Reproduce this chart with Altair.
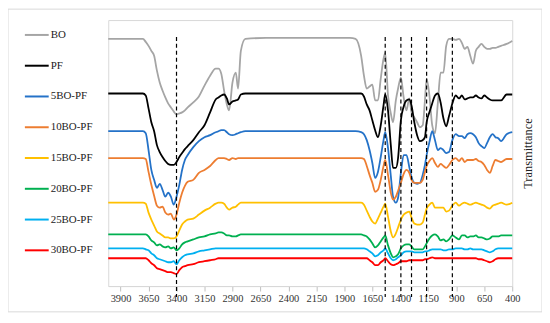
import altair as alt
import pandas as pd

# Wavenumber grid (cm-1) shared by all spectra
wavenumber = [4010, 3800, 3700, 3675, 3650, 3625, 3600, 3575, 3550, 3525, 3500, 3475, 3450, 3425, 3400, 3375,
              3350, 3325, 3300, 3250, 3200, 3150, 3100, 3050, 3025, 3000, 2975, 2950, 2930, 2900, 2870, 2850,
              2825, 2785, 2600, 2000, 1850, 1800, 1750, 1725, 1700, 1675, 1650, 1625, 1600, 1575, 1550, 1535,
              1510, 1485, 1465, 1440, 1420, 1395, 1370, 1345, 1320, 1300, 1275, 1250, 1225, 1200, 1180, 1165,
              1140, 1115, 1090, 1065, 1040, 1015, 990, 965, 935, 905, 875, 850, 825, 800, 775, 750,
              725, 700, 675, 650, 625, 600, 575, 550, 525, 500, 450, 400]

# Offset transmittance (arbitrary units)
bo = [249, 249, 249, 246, 242, 237, 232, 217, 205, 197, 190, 184, 180, 176, 173, 174,
      175, 177, 180, 185, 191, 202, 212, 219, 219, 214, 197, 183, 177, 205, 215, 199,
      237, 249, 250, 250, 250, 249, 232, 212, 199, 201, 203, 187, 187, 209, 229, 235,
      192, 174, 165, 187, 199, 210, 190, 177, 189, 175, 170, 165, 160, 162, 187, 209,
      192, 162, 154, 184, 215, 215, 242, 249, 249, 248, 249, 245, 239, 241, 232, 224,
      237, 241, 244, 241, 239, 239, 240, 240, 241, 242, 244, 247]
pf = [194, 194, 194, 192, 179, 165, 156, 142, 135, 130, 126, 123, 122, 122, 125, 130,
      134, 138, 141, 147, 155, 162, 175, 188, 190, 192, 193, 189, 183, 186, 187, 188,
      193, 194, 194, 194, 194, 194, 194, 191, 183, 177, 167, 157, 150, 162, 182, 193,
      177, 142, 119, 119, 129, 167, 181, 187, 188, 182, 165, 152, 146, 147, 150, 165,
      175, 184, 192, 194, 185, 169, 161, 171, 184, 192, 189, 192, 188, 189, 190, 190,
      192, 190, 189, 192, 190, 188, 187, 187, 187, 187, 193, 193]
bo5 = [156, 156, 156, 154, 137, 117, 107, 99, 103, 97, 90, 94, 90, 82, 90, 102,
       117, 127, 132, 140, 146, 150, 152, 155, 156, 157, 157, 155, 153, 152, 153, 154,
       155, 156, 156, 156, 156, 156, 155, 153, 147, 137, 124, 109, 115, 130, 147, 155,
       139, 111, 90, 84, 89, 114, 132, 132, 120, 110, 104, 103, 104, 112, 122, 132,
       145, 156, 147, 137, 139, 137, 134, 135, 147, 153, 151, 151, 149, 153, 154, 153,
       150, 144, 141, 139, 144, 150, 153, 150, 149, 146, 153, 155]
bo10 = [129, 129, 129, 128, 115, 102, 91, 81, 79, 80, 74, 72, 73, 67, 72, 84,
        94, 101, 105, 107, 114, 117, 121, 127, 129, 129, 129, 128, 127, 129, 128, 129,
        129, 129, 129, 129, 129, 129, 129, 128, 121, 112, 104, 95, 97, 107, 121, 127,
        112, 94, 87, 90, 96, 104, 113, 117, 114, 107, 104, 104, 104, 107, 115, 121,
        126, 129, 124, 120, 123, 121, 119, 122, 127, 129, 126, 129, 125, 127, 127, 127,
        128, 126, 125, 122, 117, 114, 121, 127, 126, 125, 128, 128]
bo15 = [84, 84, 84, 83, 74, 67, 61, 55, 53, 51, 49, 49, 48, 48, 50, 56,
        62, 65, 67, 68, 72, 76, 79, 83, 84, 84, 83, 79, 77, 79, 80, 82,
        84, 84, 84, 84, 84, 84, 84, 82, 76, 70, 65, 63, 68, 74, 80, 83,
        70, 55, 49, 53, 59, 67, 72, 74, 75, 69, 63, 62, 62, 64, 72, 78,
        82, 84, 79, 79, 79, 79, 75, 76, 81, 84, 81, 83, 84, 83, 82, 83,
        84, 83, 82, 81, 79, 78, 81, 82, 83, 84, 82, 84]
bo20 = [52, 52, 52, 52, 50, 46, 44, 41, 42, 40, 39, 40, 38, 39, 36, 38,
        42, 44, 45, 47, 49, 50, 52, 53, 54, 54, 53, 51, 51, 50, 50, 51,
        52, 52, 52, 52, 52, 52, 52, 51, 50, 47, 43, 39, 41, 45, 49, 51,
        41, 33, 29, 30, 32, 38, 41, 42, 42, 40, 37, 37, 37, 37, 40, 43,
        48, 51, 52, 50, 46, 47, 45, 47, 51, 49, 47, 51, 51, 49, 50, 50,
        51, 49, 49, 48, 47, 48, 50, 50, 50, 51, 51, 51]
bo25 = [38, 38, 38, 37, 36, 33, 31, 28, 27, 26, 25, 24, 24, 25, 22, 26,
        29, 31, 32, 33, 35, 36, 37, 38, 38, 38, 38, 38, 38, 38, 38, 38,
        38, 38, 38, 38, 38, 38, 38, 38, 37, 35, 33, 30, 31, 34, 36, 38,
        33, 28, 26, 27, 29, 31, 34, 35, 35, 35, 34, 34, 34, 34, 35, 35,
        36, 37, 37, 37, 37, 36, 36, 37, 37, 38, 38, 38, 37, 37, 38, 37,
        37, 37, 37, 36, 35, 34, 35, 37, 38, 38, 38, 38]
bo30 = [28, 28, 28, 28, 26, 23, 21, 18, 17, 16, 15, 14, 14, 13, 12, 16,
        19, 20, 21, 22, 24, 25, 26, 27, 28, 28, 28, 28, 28, 28, 28, 28,
        28, 28, 28, 28, 28, 28, 28, 28, 28, 26, 24, 21, 21, 24, 26, 28,
        25, 22, 21, 22, 23, 25, 25, 25, 26, 26, 26, 26, 26, 26, 27, 27,
        28, 29, 28, 28, 28, 28, 28, 28, 28, 28, 28, 28, 28, 28, 28, 28,
        28, 27, 27, 26, 25, 24, 25, 27, 28, 28, 28, 28]

series_names = ["BO", "PF", "5BO-PF", "10BO-PF", "15BO-PF", "20BO-PF", "25BO-PF", "30BO-PF"]
series_values = [bo, pf, bo5, bo10, bo15, bo20, bo25, bo30]
series_colors = ["#a5a5a5", "#000000", "#2472c8", "#ed7d31", "#ffc000", "#00b050", "#00b0f0", "#ff0000"]

dashed_positions = [3400, 1535, 1395, 1300, 1165, 935]
x_ticks = [3900, 3650, 3400, 3150, 2900, 2650, 2400, 2150, 1900, 1650, 1400, 1150, 900, 650, 400]

for v in series_values:
    assert len(v) == len(wavenumber), len(v)

rows = []
for name, vals in zip(series_names, series_values):
    for i, (w, t) in enumerate(zip(wavenumber, vals)):
        rows.append({"series": name, "wn": w, "t": t, "idx": i})
df = pd.DataFrame(rows)

FONT = "Liberation Serif"
W, H = 407, 268

xscale = alt.Scale(domain=[400, 4010], reverse=True, nice=False, zero=False)
yscale = alt.Scale(domain=[0, 268], nice=False, zero=False)
xaxis = alt.Axis(values=x_ticks, format="d", title=None, grid=False, labelFont=FONT,
                 labelFontSize=10.5, labelColor="#333333", tickColor="#bfbfbf", tickSize=5,
                 domainColor="#d9d9d9", labelPadding=3, labelFlush=False, labelOverlap=False)

lines = alt.Chart(df).mark_line(strokeWidth=1.8, interpolate="monotone").encode(
    x=alt.X("wn:Q", scale=xscale, axis=xaxis),
    y=alt.Y("t:Q", scale=yscale,
            axis=alt.Axis(orient="right", labels=False, ticks=False, domain=False, grid=False,
                          title="Transmittance", titleFont=FONT, titleFontSize=12.5,
                          titleFontWeight="normal", titleColor="#222222", titleAngle=270,
                          titlePadding=22)),
    color=alt.Color("series:N", sort=series_names,
                    scale=alt.Scale(domain=series_names, range=series_colors),
                    legend=alt.Legend(title=None, orient="none", legendX=-85, legendY=2,
                                      symbolType="stroke", symbolSize=576, symbolStrokeWidth=2,
                                      labelFont=FONT, labelFontSize=11, labelColor="#222222",
                                      rowPadding=13, padding=0, labelOffset=1)),
    order=alt.Order("idx:Q"),
)

rules = alt.Chart(pd.DataFrame({"wn": dashed_positions})).mark_rule(
    color="black", strokeDash=[4, 3], strokeWidth=1.2, clip=False
).encode(
    x=alt.X("wn:Q", scale=xscale, axis=xaxis),
    y=alt.value(17),
    y2=alt.value(279),
)

border = alt.Chart(pd.DataFrame({"a": [0]})).mark_rect(
    fill="transparent", stroke="#d9d9d9", strokeWidth=1, clip=False
).encode(
    x=alt.value(-101), x2=alt.value(437), y=alt.value(-11), y2=alt.value(294)
)

chart = alt.layer(border, lines, rules).properties(
    width=W, height=H,
    padding={"left": 101, "top": 11, "right": 30, "bottom": 26},
    autosize=alt.AutoSizeParams(type="none"),
).configure_view(stroke="#d9d9d9", strokeWidth=1)

chart.save("out.html", embed_options={"renderer": "svg", "actions": False})
